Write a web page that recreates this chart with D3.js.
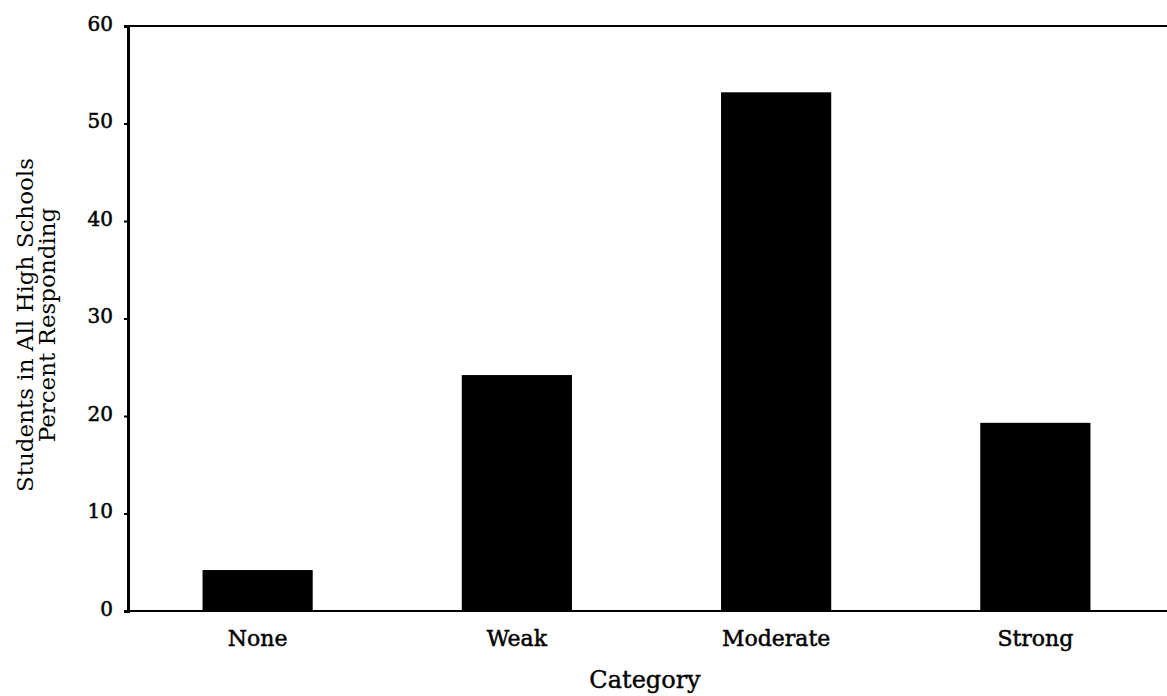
<!DOCTYPE html>
<html>
<head>
<meta charset="utf-8">
<script src="https://cdn.jsdelivr.net/npm/d3@7"></script>
<style>
  body { margin: 0; background: #fff; }
  svg text { font-family: "DejaVu Serif", "Liberation Serif", serif; fill: #000; }
</style>
</head>
<body>
<div id="chart"></div>
<script>
// Chart data
const categories = ['None', 'Weak', 'Moderate', 'Strong'];
const percents = [4.2, 24.2, 53.2, 19.3];
const yTicks = [0, 10, 20, 30, 40, 50, 60];

const width = 1167;
const height = 696;
const margin = { left: 128, right: 2, top: 26, bottom: 85 };

const svg = d3.select('#chart').append('svg')
  .attr('width', width)
  .attr('height', height);

const x = d3.scaleBand()
  .domain(categories)
  .range([margin.left, width - margin.right])
  .paddingInner(0.575)
  .paddingOuter(0.2875);

const y = d3.scaleLinear()
  .domain([0, 60])
  .range([height - margin.bottom, margin.top]);

// Bars
svg.append('g')
  .selectAll('rect')
  .data(categories)
  .join('rect')
  .attr('x', d => x(d))
  .attr('y', (d, i) => y(percents[i]))
  .attr('width', x.bandwidth())
  .attr('height', (d, i) => y(0) - y(percents[i]))
  .attr('fill', '#000');

// Top border
svg.append('line')
  .attr('x1', margin.left).attr('x2', width)
  .attr('y1', y(60)).attr('y2', y(60))
  .attr('stroke', '#000').attr('stroke-width', 2);

// Y axis
const yAxis = svg.append('g')
  .attr('transform', `translate(${margin.left},0)`)
  .call(d3.axisLeft(y).tickValues(yTicks).tickSize(4).tickPadding(11));
yAxis.select('.domain').attr('stroke-width', 3);
yAxis.selectAll('.tick line').attr('stroke-width', 2);
yAxis.selectAll('.tick text')
  .attr('dy', '0.2em')
  .style('font-size', '20px')
  .style('stroke', '#000').style('stroke-width', 0.5);

// X axis
const xAxis = svg.append('g')
  .attr('transform', `translate(0,${y(0)})`)
  .call(d3.axisBottom(x).tickSize(0).tickPadding(19));
xAxis.select('.domain')
  .attr('d', `M${margin.left},0H${width}`)
  .attr('stroke-width', 2);
xAxis.selectAll('.tick text')
  .style('font-size', '22px')
  .style('stroke', '#000').style('stroke-width', 0.5);

// Axis titles
svg.append('text')
  .attr('x', 645)
  .attr('y', 688)
  .attr('text-anchor', 'middle')
  .style('font-size', '24px')
  .style('stroke', '#000').style('stroke-width', 0.4)
  .text('Category');

const yTitle = svg.append('text')
  .attr('transform', 'translate(33,325) rotate(-90)')
  .attr('text-anchor', 'middle')
  .style('font-size', '23px');
yTitle.append('tspan').attr('x', 0).attr('dy', 0).text('Students in All High Schools');
yTitle.append('tspan').attr('x', 0).attr('dy', 22).text('Percent Responding');
</script>
</body>
</html>
